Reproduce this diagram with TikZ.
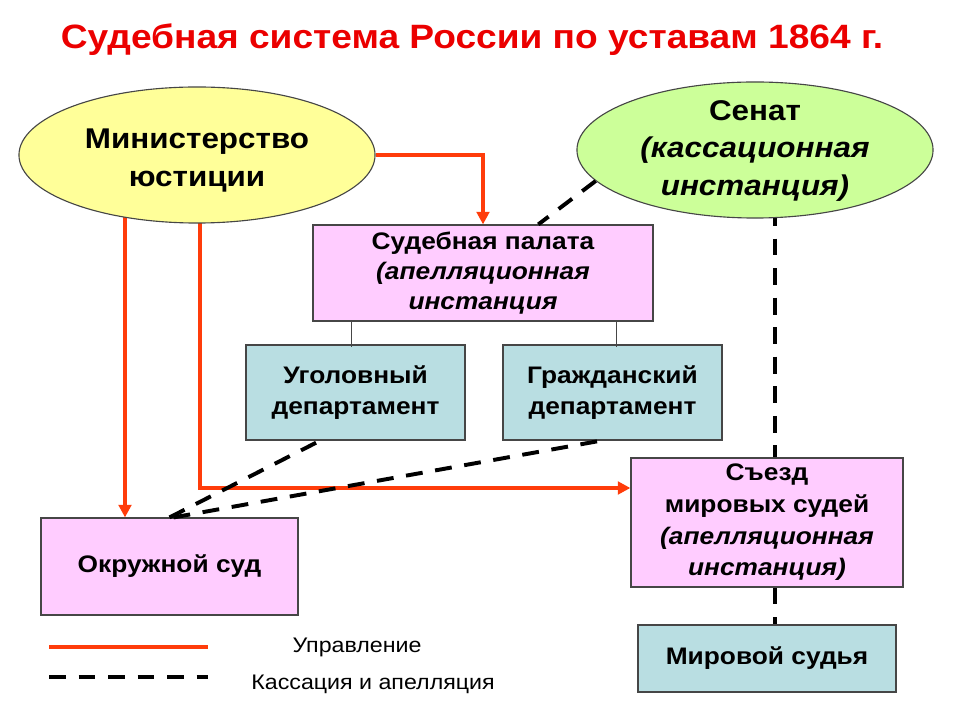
\documentclass[tikz,border=0pt]{standalone}
\usepackage{fontspec}
\setmainfont{Liberation Sans}[FakeStretch=1.1]
\usepackage{tikz}
\usetikzlibrary{positioning,calc,shapes.geometric,backgrounds,arrows.meta}
\definecolor{ctrlclr}{RGB}{255, 60, 10}
\definecolor{titleclr}{RGB}{235, 0, 0}
\definecolor{yellowclr}{RGB}{255, 255, 153}
\definecolor{greenclr}{RGB}{204, 255, 153}
\definecolor{pinkclr}{RGB}{255, 204, 255}
\definecolor{tealclr}{RGB}{185, 222, 226}
\definecolor{edgeclr}{RGB}{70, 70, 70}
\tikzset{
  ell/.style    = {draw=edgeclr, ellipse, line width=0.8pt, inner sep=0pt,
                   minimum width=8.9cm, minimum height=3.4cm},
  court/.style  = {draw=edgeclr, fill=pinkclr, line width=0.8pt,
                   align=center, inner sep=0pt},
  dept/.style   = {draw=edgeclr, fill=tealclr, line width=0.8pt,
                   align=center, inner sep=0pt},
  bigtxt/.style = {align=center, font=\fontsize{20.3}{27}\selectfont\bfseries},
  midtxt/.style = {font=\fontsize{17}{22.5}\selectfont\bfseries},
  ctrl/.style   = {ctrlclr, line width=2.8pt},
  ctrlarr/.style= {ctrl, -{Triangle[length=9pt,width=9pt]}},
  cass/.style   = {black, line width=2.8pt, dash pattern=on 12pt off 9pt},
  lgd/.style    = {font=\fontsize{15}{18}\selectfont},
}

\begin{document}
\begin{tikzpicture}[x=0.025cm, y=-0.025cm]
    \useasboundingbox (0,0) rectangle (960,720);
    % -- Title ------------------------------------------------------
    \node[text=titleclr, font=\fontsize{24}{29}\selectfont\bfseries]
        (title) at (472,40) {Судебная система России по уставам 1864 г.};

    % -- Ministry and Senate ----------------------------------------
    \node[ell, fill=yellowclr] (minjust) at (197,155) {};
    \node[bigtxt] (minjusttxt) at (197,161) {Министерство\\юстиции};
    \node[ell, fill=greenclr] (senat) at (755,150) {};
    \node[bigtxt] (senattxt) at (755,151)
        {Сенат\\\itshape(кассационная\\\itshape инстанция)};

    % -- Courts -----------------------------------------------------
    \node[court, font=\fontsize{17}{21.5}\selectfont\bfseries,
        minimum width=8.5cm, minimum height=2.4cm]
        (palata) at (483,273)
        {Судебная палата\\\itshape(апелляционная\\\itshape инстанция};
    \node[dept, midtxt, minimum width=5.475cm, minimum height=2.375cm]
        (ugol) at (355.5,392.5) {Уголовный\\департамент};
    \node[dept, midtxt, minimum width=5.475cm, minimum height=2.375cm]
        (grazh) at (612.5,392.5) {Гражданский\\департамент};
    \node[court, midtxt, minimum width=6.8cm, minimum height=3.225cm]
        (siezd) at (767,522.5)
        {Съезд\\мировых судей\\\itshape(апелляционная\\\itshape инстанция)};
    \node[dept, midtxt, minimum width=6.45cm, minimum height=1.675cm]
        (mirov) at (767,658.5) {Мировой судья};
    \node[court, midtxt, minimum width=6.425cm, minimum height=2.425cm]
        (okruzh) at (169.5,566.5) {Окружной суд};

    % -- Connectors (behind the nodes) ------------------------------
    \coordinate (ctrlA) at (125,155);
    \coordinate (ctrlB) at (200,155);
    \coordinate (kink) at (200,488);
    \coordinate (cassV) at (775,150);
    \begin{pgfonlayer}{background}
        \draw[ctrlarr] (minjust.east) -| (palata.north);
        \draw[ctrlarr] (ctrlA) -- (ctrlA |- okruzh.north);
        \draw[ctrlarr] (ctrlB) -- (kink) -- (kink -| siezd.west);
        \draw[cass] (cassV) -- (cassV |- siezd.north);
        \draw[cass] (cassV |- siezd.south) -- (cassV |- mirov.north);
    \end{pgfonlayer}
    \draw[edgeclr, line width=0.8pt]
        ($(palata.south west)!0.115!(palata.south east)$) -- ++(0,25);
    \draw[edgeclr, line width=0.8pt]
        ($(palata.south west)!0.89!(palata.south east)$) -- ++(0,25);
    \draw[cass] (senat.191) -- ($(palata.north west)!0.662!(palata.north east)$);
    \draw[cass] (okruzh.north) -- ($(ugol.south west)!0.34!(ugol.south east)$);
    \draw[cass] ([xshift=0.1cm]okruzh.north) -- ($(grazh.south west)!0.45!(grazh.south east)$);

    % -- Legend -----------------------------------------------------
    \node[lgd] (lgdctrl) at (357,647) {Управление};
    \node[lgd] (lgdcass) at (373,684) {Кассация и апелляция};
    \draw[ctrl] (49,647) -- (208,647);
    \draw[cass] (49,677) -- (208,677);
\end{tikzpicture}
\end{document}
